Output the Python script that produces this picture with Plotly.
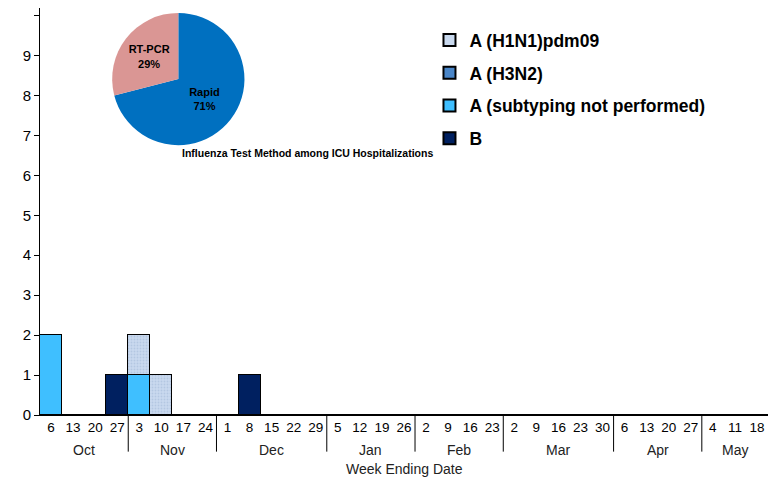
import plotly.graph_objects as go

# weeks of the season
months = ["Oct", "Nov", "Dec", "Jan", "Feb", "Mar", "Apr", "May"]
days = [[6, 13, 20, 27], [3, 10, 17, 24], [1, 8, 15, 22, 29], [5, 12, 19, 26],
        [2, 9, 16, 23], [2, 9, 16, 23, 30], [6, 13, 20, 27], [4, 11, 18]]
weeks = [f"{m} {d}" for m, ds in zip(months, days) for d in ds]
n = len(weeks)

def series(vals):
    out = [0] * n
    for k, v in vals.items():
        out[weeks.index(k)] = v
    return out

h1n1 = series({"Nov 3": 1, "Nov 10": 1})
h3n2 = series({})
a_nst = series({"Oct 6": 2, "Nov 3": 1})
b = series({"Oct 27": 1, "Dec 8": 1})

pie_labels = ["Rapid", "RT-PCR"]
pie_values = [71, 29]

fig = go.Figure()
line = dict(color="black", width=1)
fig.add_trace(go.Bar(x=weeks, y=b, name="B", marker=dict(color="#002060", line=line), showlegend=False))
fig.add_trace(go.Bar(x=weeks, y=a_nst, name="A (subtyping not performed)", marker=dict(color="#3FBFFF", line=line), showlegend=False))
fig.add_trace(go.Bar(x=weeks, y=h3n2, name="A (H3N2)", marker=dict(color="#4A86C8", line=line), showlegend=False))
fig.add_trace(go.Bar(x=weeks, y=h1n1, name="A (H1N1)pdm09",
                     marker=dict(color="#C9D9EE", line=line,
                                 pattern=dict(shape=".", fgcolor="#9FB6D6", size=3, solidity=0.3)),
                     showlegend=False))

# legend drawn as dummy scatter markers
leg = [("A (H1N1)pdm09", "#C9D9EE"), ("A (H3N2)", "#4A86C8"),
       ("A (subtyping not performed)", "#3FBFFF"), ("B", "#002060")]
for i, (name, c) in enumerate(leg):
    fig.add_trace(go.Scatter(x=[None], y=[None], mode="markers", name=f"<b>{name}</b>", legendgroup=f"g{i}",
                             marker=dict(symbol="square", size=17, color=c, line=dict(color="black", width=1))))

fig.add_trace(go.Pie(labels=pie_labels, values=pie_values, sort=False, direction="clockwise",
                     rotation=0, marker=dict(colors=["#0070C0", "#DA9694"]),
                     texttemplate="<b>%{label}<br>%{value}%</b>", textposition="inside",
                     insidetextfont=dict(color="black", size=11), showlegend=False,
                     domain=dict(x=[0.099, 0.281], y=[0.663, 0.988]), hoverinfo="label+percent"))

fig.add_annotation(text="<b>Influenza Test Method among ICU Hospitalizations</b>", x=0.192, y=0.644,
                   xref="paper", yref="paper", showarrow=False, font=dict(size=10.5, color="black"))

# month labels and separators
start = 0
for m, ds in zip(months, days):
    mid = start + (len(ds) - 1) / 2
    fig.add_annotation(text=m, x=mid, y=0, yanchor="top", yshift=-25, xref="x", yref="paper",
                       showarrow=False, font=dict(size=14, color="#222"))
    if start > 0:
        fig.add_shape(type="line", x0=start - 0.5, x1=start - 0.5, y0=0, y1=-0.09,
                      xref="x", yref="paper", line=dict(color="black", width=1))
    start += len(ds)

fig.add_annotation(text="Week Ending Date", x=0.5, y=0, yanchor="top", yshift=-44, xref="paper", yref="paper",
                   showarrow=False, font=dict(size=14, color="#222"))

fig.update_layout(
    width=776, height=478, barmode="stack", bargap=0,
    margin=dict(l=32, r=16, t=0, b=71),
    plot_bgcolor="white", paper_bgcolor="white",
    font=dict(family="Liberation Sans, Arial", color="black"),
    legend=dict(x=0.535, y=0.965, xanchor="left", yanchor="top", font=dict(size=17.5, color="black"),
                tracegroupgap=7, itemsizing="constant", bgcolor="rgba(0,0,0,0)", traceorder="grouped"),
    xaxis=dict(tickmode="array", tickvals=weeks, ticktext=[str(d) for ds in days for d in ds],
               tickangle=0, showline=True, linecolor="black", ticks="", tickfont=dict(size=13.5),
               range=[-0.5, n - 0.5], automargin=False),
    yaxis=dict(range=[0, 10.19], tickvals=list(range(11)), showline=True, linecolor="black", ticks="outside",
               ticklen=5, tickcolor="black", showgrid=False, tickfont=dict(size=15), zeroline=False,
               automargin=False),
)
fig.write_html("out.html")
